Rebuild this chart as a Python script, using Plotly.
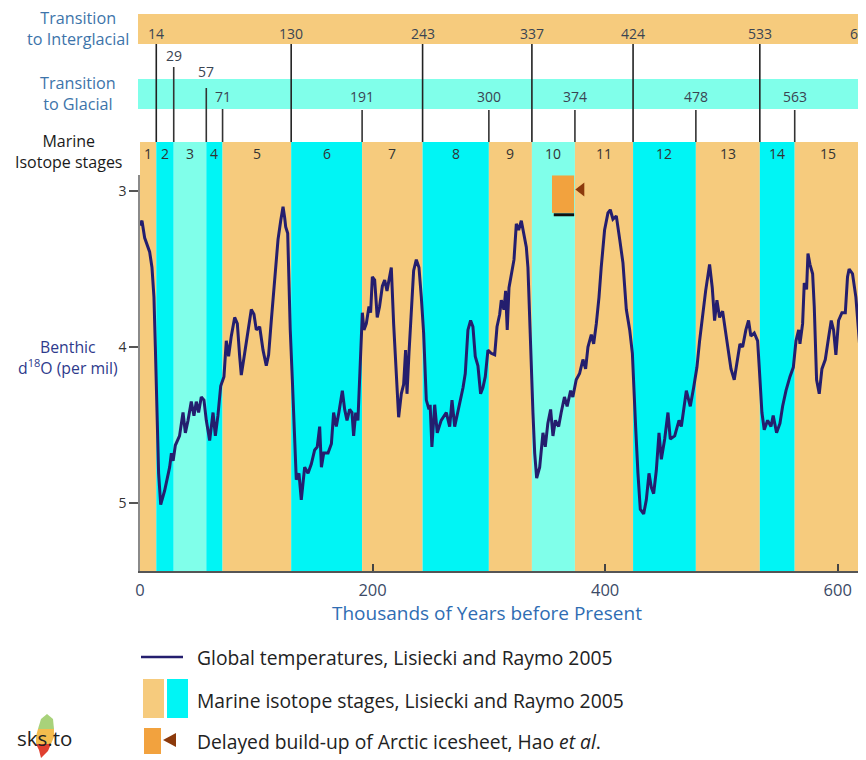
import plotly.graph_objects as go

# ---------------- data ----------------
ages = [0, 1.7, 4, 8.3, 10.3, 12, 13.2, 14.6, 16, 17.8, 21.2, 25.5, 27, 28.5, 30.4, 34, 37, 39, 41.3,
        44.1, 46.4, 48.4, 50.4, 52.7, 55, 57, 59.9, 62.8, 64.8, 67, 69.4, 72.2, 74.2, 76.2, 78.5,
        81.4, 83.7, 85.7, 87.1, 90, 92.9, 95.7, 98, 100, 102.9, 105.8, 108.6, 110.6, 112.9, 115.8,
        118.7, 121, 123, 124.4, 125.3, 127, 128.1, 129.2, 131, 133, 134.4, 136.7, 138.7, 141.6,
        144.5, 147.3, 150.2, 152.4, 154.5, 156, 158, 161.7, 164.6, 166.5, 168.8, 171, 174, 176,
        178, 180.3, 182.3, 183.7, 185.5, 187.4, 189.4, 191.2, 192.6, 194.6, 196.9, 198.3, 199.8,
        201.8, 204, 206, 208.4, 210.4, 212.4, 214.2, 216.1, 218.1, 220.4, 222.4, 224.7, 226.7,
        228.4, 229.6, 231.3, 233.3, 235.3, 237.6, 239.9, 241.9, 243.9, 246.2, 248.5, 249.5, 251,
        253.4, 255.6, 259, 263.4, 266.3, 268.3, 270.6, 274.9, 277.8, 279.7, 282, 284.3, 286.3,
        288.3, 290.6, 292.9, 294.9, 296.9, 299.2, 302, 305, 307, 309.3, 310.7, 313, 314.4, 315.8,
        317.3, 319.3, 321.6, 323.6, 325.6, 327.9, 330.2, 332.2, 333.6, 335.1, 336.4, 337.9, 339.4,
        341.1, 343.7, 346.5, 348.5, 350.7, 353.1, 355.1, 357.2, 360, 362.2, 365, 367.3, 370.3,
        372.2, 375.1, 378, 380.9, 383.2, 385.2, 388.1, 390.1, 392.4, 394.7, 396.6, 399.5, 402.4,
        404.4, 406.7, 409.6, 412.5, 415.3, 418.2, 421.1, 423.4, 424.9, 426.2, 428.2, 430.2, 433.1,
        435.4, 437.7, 439.7, 441.7, 444, 446.3, 448.3, 451.2, 454, 456, 459.8, 463.5, 465.5, 469.8,
        473.2, 476.1, 478.9, 481.2, 483.5, 486.4, 489.8, 492.1, 494.1, 496.1, 498.4, 501, 503.3,
        506.2, 508.2, 511, 513, 515.9, 518.2, 521, 523.3, 525.3, 528.2, 531.1, 532.5, 534.8, 536.8,
        539.7, 542.6, 544.5, 547.4, 550.3, 552.6, 555.5, 558.9, 561.8, 564.1, 566.4, 567.5, 569.8,
        571.2, 573.2, 574.4, 576.1, 578.4, 579.8, 581.8, 584.1, 586.4, 589.3, 592.1, 594.4, 596.4,
        598.4, 600.7, 603.6, 606.5, 608.4, 609.8, 612.7, 615.6, 618, 620, 621.4, 622.8, 624.2, 626]
d18o = [3.22, 3.19, 3.30, 3.39, 3.49, 3.68, 4.00, 4.42, 4.81, 5.01, 4.92, 4.77, 4.68, 4.73, 4.63, 4.57,
        4.42, 4.55, 4.47, 4.35, 4.44, 4.35, 4.42, 4.32, 4.34, 4.47, 4.60, 4.42, 4.57, 4.44, 4.25,
        4.19, 3.96, 4.06, 3.93, 3.81, 3.85, 4.06, 4.18, 4.04, 3.89, 3.76, 3.79, 3.89, 3.87, 4.02,
        4.12, 4.05, 3.83, 3.57, 3.31, 3.19, 3.10, 3.17, 3.23, 3.27, 3.68, 3.89, 4.21, 4.64, 4.85,
        4.81, 4.98, 4.77, 4.81, 4.75, 4.66, 4.64, 4.51, 4.77, 4.68, 4.68, 4.62, 4.42, 4.51, 4.42,
        4.28, 4.40, 4.47, 4.40, 4.42, 4.57, 4.42, 4.47, 4.10, 3.78, 3.89, 3.85, 3.74, 3.78, 3.55,
        3.57, 3.81, 3.74, 3.61, 3.57, 3.64, 3.57, 3.49, 3.85, 4.17, 4.45, 4.30, 4.24, 4.02, 4.30,
        4.04, 3.74, 3.51, 3.44, 3.49, 3.68, 3.91, 4.34, 4.40, 4.37, 4.64, 4.37, 4.55, 4.47, 4.42,
        4.51, 4.34, 4.51, 4.37, 4.26, 4.17, 3.89, 3.83, 3.87, 4.06, 4.12, 4.30, 4.26, 4.19, 4.02,
        4.04, 4.05, 3.87, 3.79, 3.70, 3.76, 3.64, 3.89, 3.62, 3.53, 3.44, 3.21, 3.25, 3.19, 3.27,
        3.36, 3.49, 3.83, 4.17, 4.42, 4.68, 4.84, 4.77, 4.55, 4.64, 4.49, 4.40, 4.57, 4.47, 4.51,
        4.42, 4.32, 4.38, 4.28, 4.32, 4.21, 4.17, 4.08, 4.14, 4.00, 3.92, 3.98, 3.85, 3.68, 3.49,
        3.25, 3.14, 3.12, 3.18, 3.16, 3.31, 3.46, 3.76, 3.89, 4.04, 4.32, 4.51, 4.81, 5.04, 5.07,
        4.98, 4.81, 4.90, 4.94, 4.79, 4.55, 4.72, 4.59, 4.42, 4.59, 4.57, 4.47, 4.51, 4.28, 4.38,
        4.26, 4.13, 3.96, 3.81, 3.64, 3.47, 3.62, 3.83, 3.70, 3.81, 3.77, 3.89, 4.04, 4.14, 4.21,
        4.11, 3.98, 4.00, 3.89, 3.83, 3.93, 3.91, 3.96, 4.13, 4.42, 4.53, 4.47, 4.51, 4.44, 4.55,
        4.49, 4.38, 4.28, 4.19, 4.13, 3.96, 3.89, 3.98, 3.85, 3.59, 3.63, 3.40, 3.47, 3.53, 3.74,
        4.21, 4.30, 4.14, 4.08, 3.94, 3.83, 3.89, 4.05, 3.83, 3.78, 3.78, 3.55, 3.50, 3.53, 3.68,
        3.89, 4.10, 4.30, 4.60, 4.81, 5.00]

stage_bounds = [0, 14, 29, 57, 71, 130, 191, 243, 300, 337, 374, 424, 478, 533, 563, 621, 700]
stage_labels = ["1", "2", "3", "4", "5", "6", "7", "8", "9", "10", "11", "12", "13", "14", "15", ""]
stage_kind = ["warm", "cold", "mild", "cold", "warm", "cold", "warm", "cold", "warm", "mild",
              "warm", "cold", "warm", "cold", "warm", "cold"]

interglacial_ages = [14, 130, 243, 337, 424, 533, 621]
glacial_ages = [29, 57, 71, 191, 300, 374, 478, 563]

delayed_x = [354.3, 373.3]
delayed_y = [2.9, 3.14]
delayed_arrow_x = [379.5]
delayed_arrow_y = [2.99]

x_ticks = [0, 200, 400, 600]
y_ticks = [3, 4, 5]

# ---------------- styling ----------------
OFF = 8                      # page body margin of the html page
W, H = 866 - OFF, 760 - OFF
L, R, T, B = 140 - OFF, 0, 175 - OFF, 189
FONT = "Open Sans"
ORANGE = "#F6CB7D"
CYAN = "#00F5F5"
MILD = "#80FFEA"
LINE = "#241E6E"
kind_col = {"warm": ORANGE, "cold": CYAN, "mild": MILD}
PW, PH = W - L - R, H - T - B


def PX(px):
    return (px - OFF - L) / PW


def PY(py):
    return (H - B - (py - OFF)) / PH


fig = go.Figure()
fig.add_trace(go.Scatter(x=ages, y=d18o, mode="lines",
                         line=dict(color=LINE, width=3), hoverinfo="skip", showlegend=False))
fig.add_trace(go.Scatter(x=delayed_arrow_x, y=delayed_arrow_y, mode="markers",
                         marker=dict(symbol="triangle-left", size=12, color="#8C3A0C"),
                         hoverinfo="skip", showlegend=False, cliponaxis=False))

shapes = []
annotations = []


def note(x, y, text, size, color, xref="paper", xanchor="center"):
    annotations.append(dict(x=x, y=y, xref=xref, yref="paper", text=text, showarrow=False,
                            xanchor=xanchor, yanchor="middle",
                            font=dict(family=FONT, size=size, color=color)))


# stage bands
for i in range(len(stage_kind)):
    shapes.append(dict(type="rect", xref="x", yref="paper", x0=stage_bounds[i], x1=stage_bounds[i + 1],
                       y0=0, y1=PY(142), fillcolor=kind_col[stage_kind[i]], line=dict(width=0),
                       layer="below"))
    if stage_labels[i]:
        note((stage_bounds[i] + stage_bounds[i + 1]) / 2, PY(153), stage_labels[i], 14, "#333333", xref="x")

# top bands
shapes.append(dict(type="rect", xref="paper", yref="paper", x0=PX(138), x1=PX(870), y0=PY(44), y1=PY(14),
                   fillcolor=ORANGE, line=dict(width=0), layer="below"))
shapes.append(dict(type="rect", xref="paper", yref="paper", x0=PX(138), x1=PX(870), y0=PY(109), y1=PY(79),
                   fillcolor=MILD, line=dict(width=0), layer="below"))

# interglacial lines
for a in interglacial_ages:
    shapes.append(dict(type="line", xref="x", yref="paper", x0=a, x1=a, y0=PY(142), y1=PY(44),
                       line=dict(color="#222222", width=1.6)))
    note(a, PY(33), str(a), 14, "#3A4452", xref="x")

glacial_top = {29: 67, 57: 88, 71: 109}
glacial_lab = {29: 55, 57: 72}
for a in glacial_ages:
    shapes.append(dict(type="line", xref="x", yref="paper", x0=a, x1=a, y0=PY(142),
                       y1=PY(glacial_top.get(a, 110)), line=dict(color="#333333", width=1.6)))
    note(a, PY(glacial_lab.get(a, 97)), str(a), 14, "#3A4452", xref="x")

# delayed build-up marker
shapes.append(dict(type="rect", xref="x", yref="y", x0=delayed_x[0], x1=delayed_x[1],
                   y0=delayed_y[0], y1=delayed_y[1], fillcolor="#F2A23E", line=dict(width=0)))
shapes.append(dict(type="line", xref="x", yref="y", x0=delayed_x[0] + 1.5, x1=delayed_x[1],
                   y0=delayed_y[1] + 0.012, y1=delayed_y[1] + 0.012, line=dict(color="#111111", width=3)))

# left labels (two-line texts)
note(PX(78), PY(28), "Transition<br>to Interglacial", 16.2, "#3D74AA")
note(PX(78), PY(94), "Transition<br>to Glacial", 16.2, "#3D74AA")
note(PX(69), PY(152), "Marine<br>Isotope stages", 16, "#1A1A1A")
note(PX(68), PY(357), "Benthic<br>d<sup>18</sup>O (per mil)", 15.8, "#2E3A8C")

# x title
note(PX(487), PY(613), "Thousands of Years before Present", 19, "#2F6DB3")

# legend
shapes.append(dict(type="line", xref="paper", yref="paper", x0=PX(141), x1=PX(183), y0=PY(657), y1=PY(657),
                   line=dict(color=LINE, width=2.5)))
shapes.append(dict(type="rect", xref="paper", yref="paper", x0=PX(143), x1=PX(164), y0=PY(718), y1=PY(679),
                   fillcolor=ORANGE, line=dict(width=0)))
shapes.append(dict(type="rect", xref="paper", yref="paper", x0=PX(167), x1=PX(188), y0=PY(718), y1=PY(679),
                   fillcolor=CYAN, line=dict(width=0)))
shapes.append(dict(type="rect", xref="paper", yref="paper", x0=PX(144), x1=PX(161), y0=PY(754), y1=PY(728),
                   fillcolor="#F2A23E", line=dict(width=0)))


def ppath(points):
    return "M " + " L ".join(f"{PX(a):.5f},{PY(b):.5f}" for a, b in points) + " Z"


shapes.append(dict(type="path", xref="paper", yref="paper", path=ppath([(163, 740), (176, 733), (176, 747)]),
                   fillcolor="#8C3A0C", line=dict(width=0)))

for txt, py in [("Global temperatures, Lisiecki and Raymo 2005", 657),
                ("Marine isotope stages, Lisiecki and Raymo 2005", 700),
                ("Delayed build-up of Arctic icesheet, Hao <i>et al</i>.", 741)]:
    note(PX(195), PY(py), txt, 19.3, "#222222", xanchor="left")

# sks.to logo
shapes.append(dict(type="path", xref="paper", yref="paper",
                   path=ppath([(38, 729), (41, 719), (47, 714), (53, 719), (54, 729)]),
                   fillcolor="#A8D27A", line=dict(width=0)))
shapes.append(dict(type="path", xref="paper", yref="paper",
                   path=ppath([(38, 729), (54, 729), (54, 737), (51, 744), (36, 744), (36, 736)]),
                   fillcolor="#F4BC4E", line=dict(width=0)))
shapes.append(dict(type="path", xref="paper", yref="paper",
                   path=ppath([(36, 744), (51, 744), (48, 751), (41, 758), (39, 750)]),
                   fillcolor="#E04030", line=dict(width=0)))
note(PX(44), PY(738), "sks.to", 20.5, "#222222")

fig.update_layout(
    width=W, height=H, margin=dict(l=L, r=R, t=T, b=B, pad=0),
    paper_bgcolor="white", plot_bgcolor="white",
    shapes=shapes, annotations=annotations, showlegend=False,
    xaxis=dict(range=[0, 624.3], tickvals=x_ticks, ticks="inside", ticklen=7, tickwidth=1.5,
               tickcolor="#444444", showline=True, linecolor="#555555", linewidth=2,
               showgrid=False, zeroline=False, ticklabelstandoff=3,
               tickfont=dict(family=FONT, size=16.5, color="#3B4A66")),
    yaxis=dict(range=[5.436, 2.897], tickvals=y_ticks, ticks="outside", ticklen=9, tickwidth=1.5,
               tickcolor="#555555", showline=True, linecolor="#8A8A8A", linewidth=1.5,
               showgrid=False, zeroline=False,
               tickfont=dict(family=FONT, size=14, color="#333333")),
)

fig.write_html("out.html")
